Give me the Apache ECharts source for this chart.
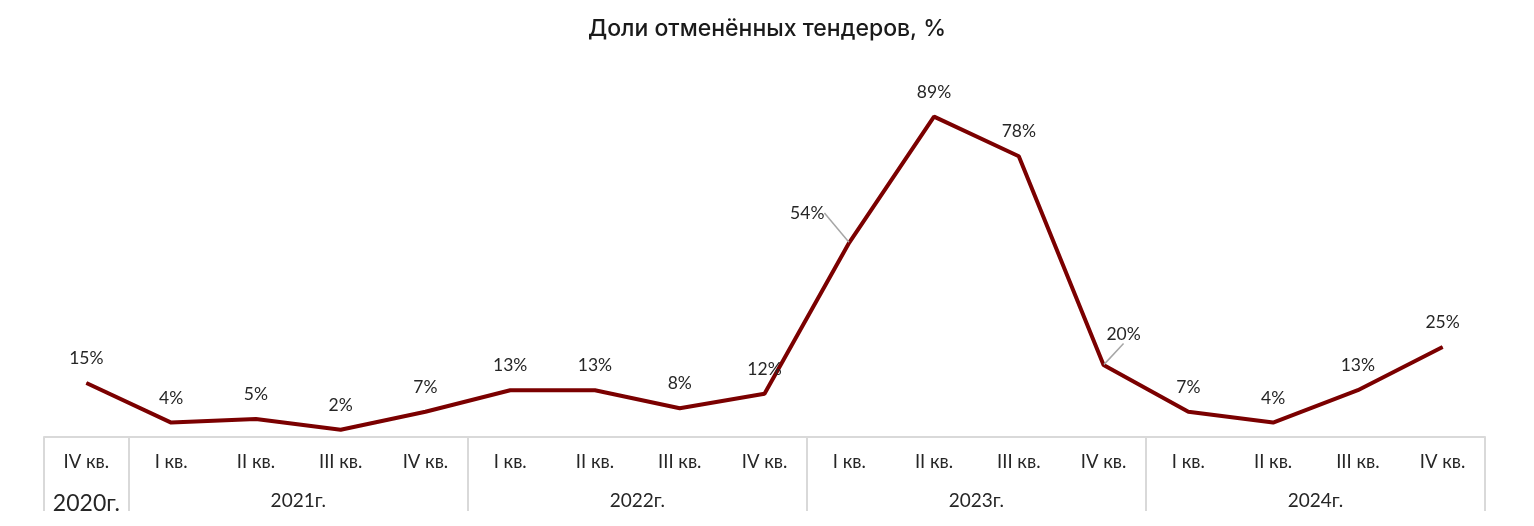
<!DOCTYPE html>
<html>
<head>
<meta charset="utf-8">
<script src="https://cdn.jsdelivr.net/npm/echarts@6/dist/echarts.min.js"></script>
<style>
html,body{margin:0;padding:0;background:#fff;}
#c{width:1534px;height:526px;}
</style>
</head>
<body>
<div id="c"></div>
<script>
const titleText = 'Доли отменённых тендеров, %';
const quarters = ['IV кв.','I кв.','II кв.','III кв.','IV кв.','I кв.','II кв.','III кв.','IV кв.','I кв.','II кв.','III кв.','IV кв.','I кв.','II кв.','III кв.','IV кв.'];
const values = [15, 4, 5, 2, 7, 13, 13, 8, 12, 54, 89, 78, 20, 7, 4, 13, 25];
const yearLabels = ['2020г.','2021г.','2022г.','2023г.','2024г.'];
const yearStartIndex = [0, 1, 5, 9, 13];
const yearEndIndex = [1, 5, 9, 13, 17];
const movedLabels = [9, 12];

const font = 'Lato, "Open Sans", sans-serif';
const yearAt = {};
yearLabels.forEach((y, i) => { yearAt[((yearStartIndex[i] + yearEndIndex[i]) / 2).toFixed(1)] = i; });

const seriesData = values.map((v, i) => movedLabels.indexOf(i) >= 0
  ? { value: v, labelLine: { show: true } }
  : { value: v });

const chart = echarts.init(document.getElementById('c'));
chart.setOption({
  animation: false,
  title: {
    text: titleText, left: 'center', top: 13,
    textStyle: { fontFamily: 'Inter, sans-serif', fontSize: 23, fontWeight: 500, color: '#1a1a1a' }
  },
  grid: { left: 44, right: 49, top: 77, bottom: 89, outerBoundsMode: 'none' },
  xAxis: [{
    type: 'category', data: quarters, boundaryGap: true, position: 'bottom',
    axisLine: { lineStyle: { color: '#d9d9d9', width: 2 } },
    axisTick: { show: true, length: 74, lineStyle: { color: '#d9d9d9', width: 2 },
      interval: (i) => yearStartIndex.indexOf(i) >= 0 },
    axisLabel: { interval: 0, margin: 16, fontFamily: font, fontSize: 18.5, color: '#262626' }
  }, {
    type: 'value', min: 0, max: 17, interval: 0.5, position: 'bottom',
    axisLine: { show: false }, axisTick: { show: false }, splitLine: { show: false },
    axisLabel: {
      margin: 54, fontFamily: font, fontSize: 19, color: '#262626', showMinLabel: true, showMaxLabel: true,
      formatter: (v) => {
        const k = yearAt[Number(v).toFixed(1)];
        if (k === undefined) return '';
        return k === 0 ? '{big|' + yearLabels[k] + '}' : yearLabels[k];
      },
      rich: { big: { fontSize: 23, fontFamily: font, color: '#262626', padding: [1, 0, 0, 0] } }
    }
  }],
  yAxis: { type: 'value', min: 0, max: 100, show: false, splitLine: { show: false } },
  series: [{
    type: 'line', xAxisIndex: 0, data: seriesData,
    showSymbol: true, symbol: 'circle', symbolSize: 1,
    itemStyle: { color: '#7b0000' },
    lineStyle: { color: '#7b0000', width: 4 },
    label: { show: true, position: 'top', distance: 15, formatter: '{c}%',
      fontFamily: font, fontSize: 17.5, color: '#262626' },
    labelLine: { show: false, lineStyle: { color: '#a6a6a6', width: 1.5 } },
    labelLayout: (p) => {
      if (p.dataIndex === 9) return { dx: -42, dy: -5 };
      if (p.dataIndex === 12) return { dx: 20, dy: -6 };
      return {};
    },
    z: 3
  }]
});
</script>
</body>
</html>
